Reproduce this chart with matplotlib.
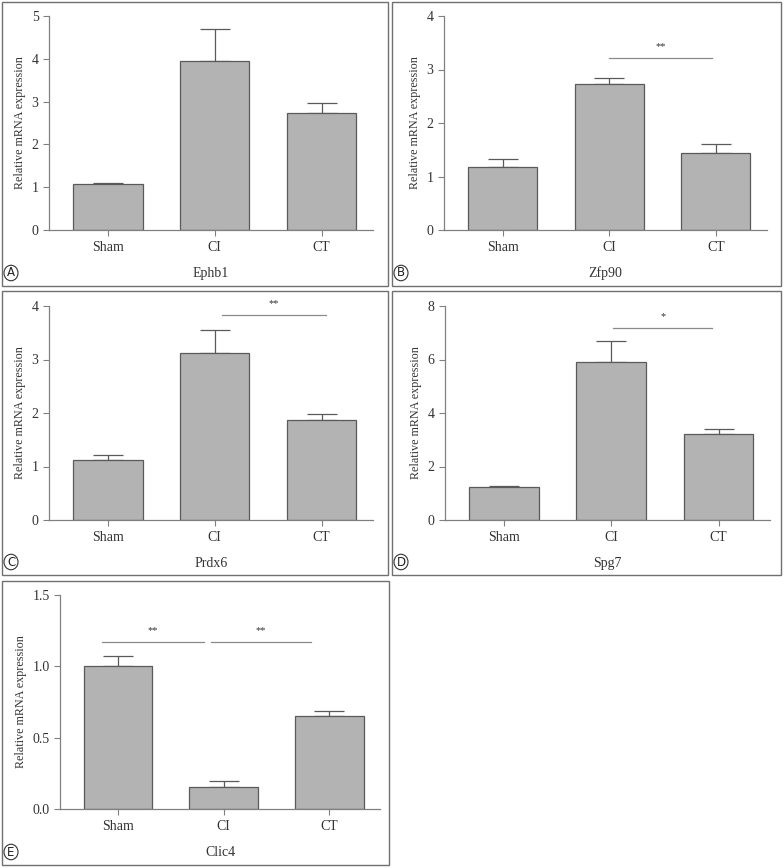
"""
Relative mRNA expression of five genes (Sham / CI / CT), panels A-E
"""

import matplotlib
matplotlib.use("Agg")
import matplotlib.pyplot as plt
from matplotlib.patches import Rectangle, Circle

groups = ["Sham", "CI", "CT"]

genes = ["Ephb1", "Zfp90", "Prdx6", "Spg7", "Clic4"]
letters = ["A", "B", "C", "D", "E"]

ephb1_mean = [1.07, 3.94, 2.73]
ephb1_sem = [0.03, 0.75, 0.23]
zfp90_mean = [1.18, 2.72, 1.43]
zfp90_sem = [0.15, 0.13, 0.18]
prdx6_mean = [1.12, 3.13, 1.87]
prdx6_sem = [0.10, 0.42, 0.12]
spg7_mean = [1.23, 5.92, 3.20]
spg7_sem = [0.04, 0.78, 0.22]
clic4_mean = [1.00, 0.157, 0.654]
clic4_sem = [0.07, 0.04, 0.03]

yticks_ephb1 = [0, 1, 2, 3, 4, 5]
yticks_zfp90 = [0, 1, 2, 3, 4]
yticks_prdx6 = [0, 1, 2, 3, 4]
yticks_spg7 = [0, 2, 4, 6, 8]
yticks_clic4 = [0.0, 0.5, 1.0, 1.5]

# significance: (from group, to group, height, label)
sig_zfp90 = [(1.0, 1.96, 3.21, "**")]
sig_prdx6 = [(1.07, 2.04, 3.84, "**")]
sig_spg7 = [(1.02, 1.94, 7.17, "*")]
sig_clic4 = [(-0.15, 0.81, 1.173, "**"), (0.876, 1.83, 1.173, "**")]

means = [ephb1_mean, zfp90_mean, prdx6_mean, spg7_mean, clic4_mean]
sems = [ephb1_sem, zfp90_sem, prdx6_sem, spg7_sem, clic4_sem]
yticks = [yticks_ephb1, yticks_zfp90, yticks_prdx6, yticks_spg7, yticks_clic4]
sigs = [[], sig_zfp90, sig_prdx6, sig_spg7, sig_clic4]
ytick_fmt = ["%d", "%d", "%d", "%d", "%.1f"]

W, H = 784, 868
plt.rcParams["font.family"] = ["Liberation Serif", "DejaVu Serif"]
fig = plt.figure(figsize=(W / 100, H / 100), dpi=100)

# panel boxes (left, top, right, bottom) and axes boxes, in pixels
boxes = [(2, 2, 388, 286), (392, 2, 781, 286),
         (2, 291, 388, 575), (392, 291, 781, 575),
         (2, 581, 389, 865)]
axboxes = [(49, 16, 373, 230), (444, 16, 767, 230),
           (49, 306, 373, 520), (445, 306, 770, 520),
           (60, 595, 380, 809)]

SPINE = "#808080"
TXT = "#333333"

for i in range(5):
    bl, bt, br, bb = boxes[i]
    fig.add_artist(Rectangle((bl / W, 1 - bb / H), (br - bl) / W, (bb - bt) / H,
                             transform=fig.transFigure, fill=False,
                             edgecolor="#707070", lw=1.0))
    # circled panel letter
    cx, cy = bl + 9, bb - 13
    fig.add_artist(Circle((cx / W, 1 - cy / H), 7 / W, transform=fig.transFigure,
                          fill=False, edgecolor="#333333", lw=0.8))
    fig.text(cx / W, 1 - cy / H, letters[i], ha="center", va="center",
             fontsize=8.5, family="DejaVu Sans", color="#222222")

    l, t, r, b = axboxes[i]
    ax = fig.add_axes([l / W, 1 - b / H, (r - l) / W, (b - t) / H])
    x = range(len(groups))
    ax.bar(x, means[i], width=0.65, color="#b3b3b3", edgecolor="#5a5a5a",
           linewidth=0.9, zorder=2)
    ax.errorbar(x, means[i], yerr=[[0] * 3, sems[i]], fmt="none",
                ecolor="#5a5a5a", elinewidth=0.9, capsize=11, capthick=0.9,
                zorder=1)
    ax.set_xlim(-0.55, 2.48)
    ax.set_ylim(yticks[i][0], yticks[i][-1])
    ax.set_yticks(yticks[i])
    ax.set_yticklabels([ytick_fmt[i] % v for v in yticks[i]])
    ax.set_xticks(list(x))
    ax.set_xticklabels(groups)
    for s in ["top", "right"]:
        ax.spines[s].set_visible(False)
    for s in ["left", "bottom"]:
        ax.spines[s].set_color(SPINE)
        ax.spines[s].set_linewidth(0.9)
    ax.tick_params(axis="both", colors=SPINE, labelcolor=TXT, labelsize=10,
                   length=4, width=0.8)
    ax.tick_params(axis="x", pad=4)
    ax.set_ylabel("Relative mRNA expression", fontsize=8.7, color=TXT, labelpad=4)
    ax.set_xlabel(genes[i], fontsize=10, color=TXT, labelpad=9)

    for x0, x1, y, lab in sigs[i]:
        ax.plot([x0, x1], [y, y], color="#8a8a8a", lw=0.9, clip_on=False)
        ax.annotate(lab, xy=((x0 + x1) / 2, y), xytext=(0, 5),
                    textcoords="offset points", ha="center", va="bottom",
                    fontsize=7.5, color=TXT, annotation_clip=False)

fig.savefig("out.png", dpi=100)
